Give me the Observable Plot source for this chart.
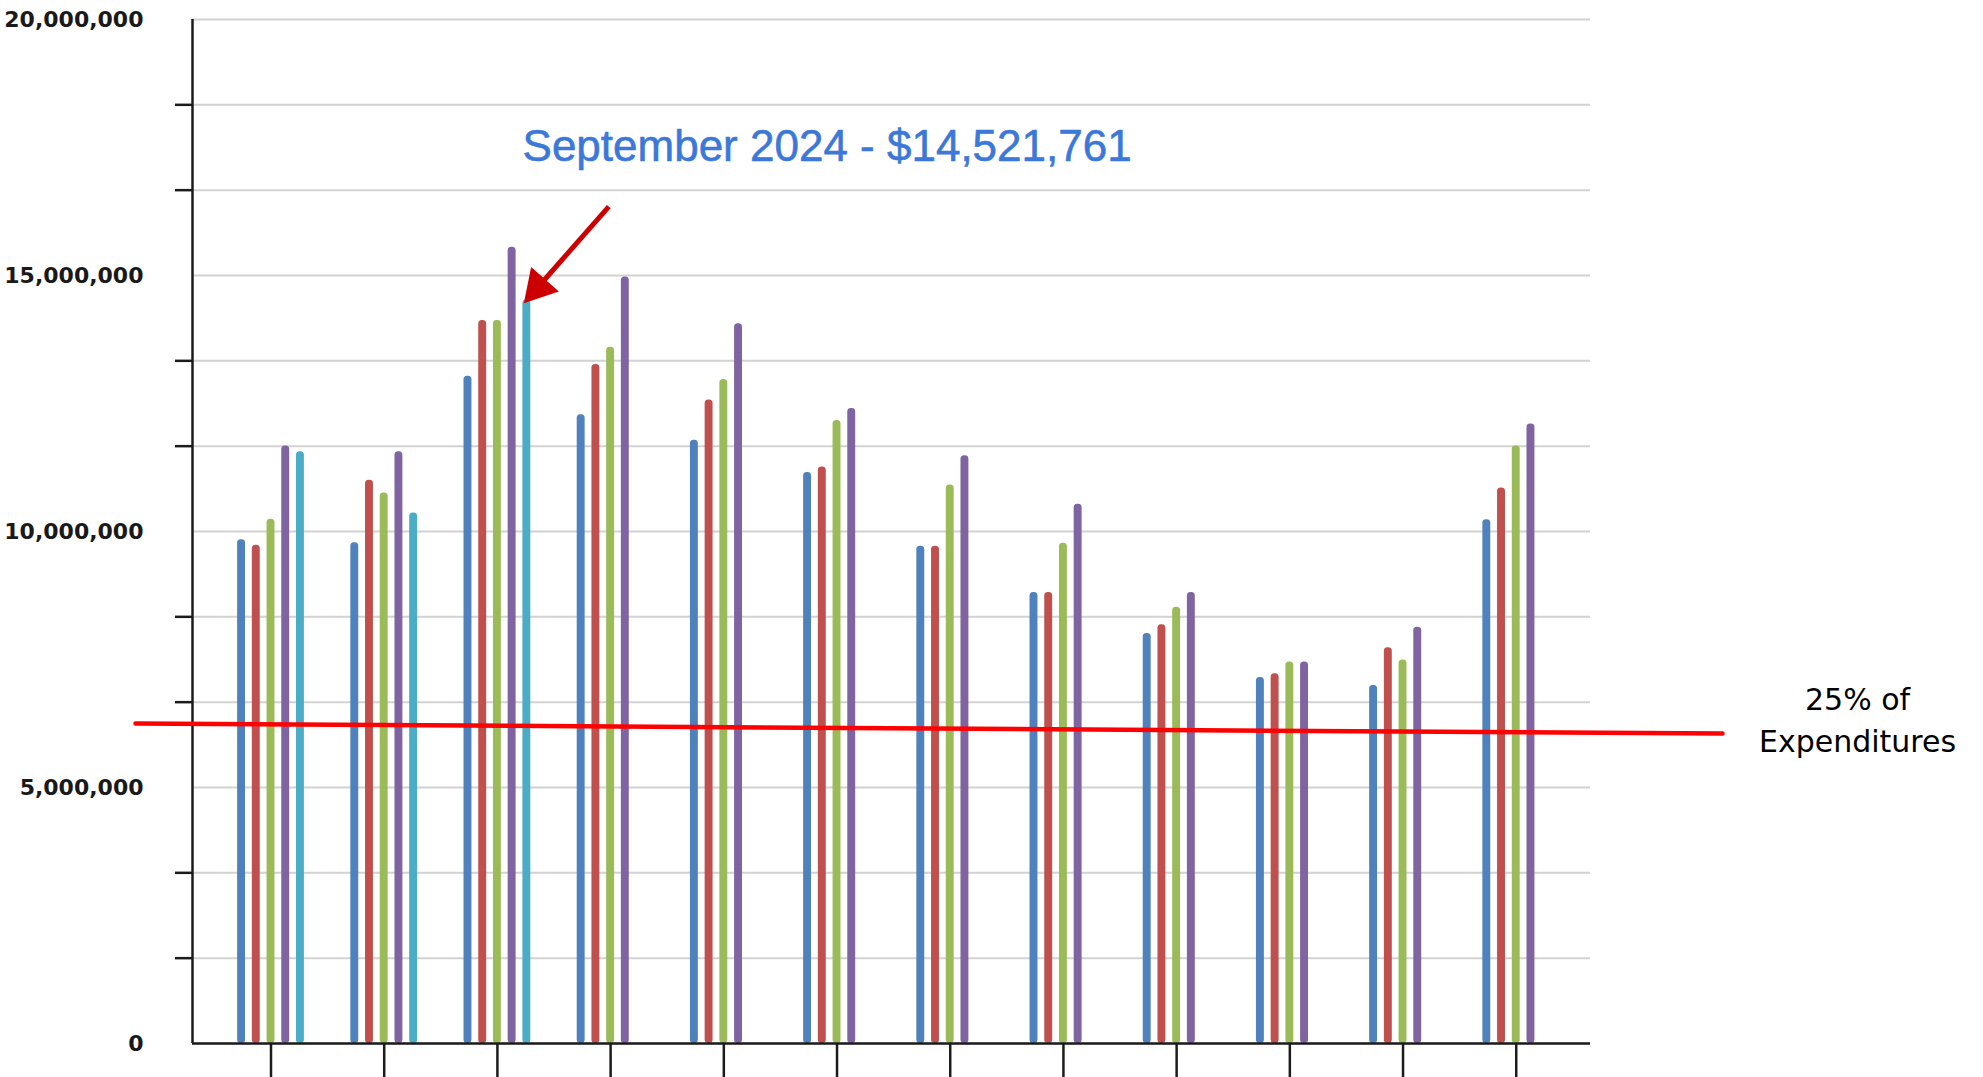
<!DOCTYPE html>
<html>
<head>
<meta charset="utf-8">
<script src="https://cdn.jsdelivr.net/npm/d3@7"></script>
<script src="https://cdn.jsdelivr.net/npm/@observablehq/plot@0.6"></script>
<style>
  html, body { margin: 0; padding: 0; background: #fff; overflow: hidden; }
  #chart svg { display: block; }
</style>
</head>
<body>
<div id="chart"></div>
<script>
// ---- data ----
const months = ["Jul", "Aug", "Sep", "Oct", "Nov", "Dec", "Jan", "Feb", "Mar", "Apr", "May", "Jun"];
const series = ["FY 2021", "FY 2022", "FY 2023", "FY 2024", "FY 2025"];
const fy2021 = [9840000, 9780000, 13030000, 12280000, 11780000, 11150000, 9710000, 8810000, 8010000, 7150000, 6990000, 10230000];
const fy2022 = [9730000, 11000000, 14120000, 13260000, 12570000, 11260000, 9710000, 8810000, 8180000, 7220000, 7730000, 10850000];
const fy2023 = [10240000, 10750000, 14120000, 13600000, 12970000, 12170000, 10910000, 9770000, 8520000, 7450000, 7490000, 11670000];
const fy2024 = [11670000, 11560000, 15550000, 14970000, 14060000, 12400000, 11480000, 10530000, 8810000, 7450000, 8130000, 12100000];
const fy2025 = [11560000, 10360000, 14521761, null, null, null, null, null, null, null, null, null];
const seriesColors = ["#4f81bd", "#c0504d", "#9bbb59", "#8064a2", "#4bacc6"];

const yLabelTicks = [0, 5000000, 10000000, 15000000, 20000000];
const yMinorTicks = [1666667, 3333333, 6666667, 8333333, 11666667, 13333333, 16666667, 18333333];
const yGridTicks = [...yLabelTicks, ...yMinorTicks];

// annotations (data space)
const calloutText = "September 2024 - $14,521,761";
const calloutPos = {x: 2.222, y: 17521000};
const arrowTail = {x: 2.984, y: 16346000};
const arrowHead = {x: 2.358, y: 14771000};
const thresholdX = [-1.197, 12.822];
const thresholdY = [6250000, 6055000];
const thresholdLabel = "25% of\nExpenditures";
const thresholdLabelPos = {x: 14.015, y: 6360000};

// ---- build table ----
const valuesBySeries = [fy2021, fy2022, fy2023, fy2024, fy2025];
const data = [];
series.forEach((s, si) => {
  valuesBySeries[si].forEach((v, mi) => {
    if (v != null) data.push({month: months[mi], series: s, value: v, mi, si});
  });
});

const dodge = 0.13;      // spacing between bars of a group (in month units)
const halfBar = 0.035;   // half bar width (in month units)
const xCenter = d => d.mi + (d.si - 2) * dodge;
const xDomain = [-0.6935, 11.656];
const ink = "#1c1c1c";

const chart = Plot.plot({
  width: 1983,
  height: 1077,
  marginTop: 19,
  marginBottom: 34,
  marginLeft: 192,
  marginRight: 393,
  style: {background: "#fff", overflow: "visible", fontFamily: "DejaVu Sans"},
  x: {type: "linear", domain: xDomain},
  y: {domain: [0, 20000000]},
  color: {domain: series, range: seriesColors},
  marks: [
    Plot.gridY(yGridTicks, {stroke: "#d2d2d2", strokeOpacity: 1, strokeWidth: 2}),
    Plot.rect(data, {
      x1: d => xCenter(d) - halfBar,
      x2: d => xCenter(d) + halfBar,
      y1: 0,
      y2: "value",
      fill: "series",
      rx: 3.5
    }),
    Plot.ruleY([0], {stroke: ink, strokeWidth: 2.5}),
    Plot.ruleX([xDomain[0]], {y1: 0, y2: 20000000, stroke: ink, strokeWidth: 2.5}),
    Plot.axisY(yMinorTicks, {tickSize: 17, tickFormat: () => "", stroke: ink, strokeWidth: 2.5, label: null}),
    Plot.axisY(yLabelTicks, {
      tickSize: 0, tickPadding: 49, tickFormat: d3.format(","), label: null,
      fontSize: 22, fontWeight: "bold", fill: "#1a1a1a"
    }),
    Plot.axisX(months.map((m, i) => i), {tickSize: 40, tickFormat: () => "", stroke: ink, strokeWidth: 2.5, label: null}),
    // 25% of expenditures line
    Plot.line(thresholdX.map((x, i) => ({x, y: thresholdY[i]})), {x: "x", y: "y", stroke: "#ff0000", strokeWidth: 4.5}),
    Plot.text([thresholdLabelPos], {
      x: "x", y: "y", text: () => thresholdLabel, textAnchor: "middle", lineAnchor: "middle",
      lineHeight: 1.4, fontSize: 30, fill: "#000", fontFamily: "DejaVu Sans"
    }),
    // callout
    Plot.link([{x1: arrowTail.x, y1: arrowTail.y, x2: arrowHead.x, y2: arrowHead.y}], {
      x1: "x1", y1: "y1", x2: "x2", y2: "y2", stroke: "#cc0000", strokeWidth: 5
    }),
    Plot.dot([arrowHead], {x: "x", y: "y", symbol: "triangle", r: 13.7, fill: "#cc0000", stroke: "none", rotate: 221.35}),
    Plot.text([calloutPos], {
      x: "x", y: "y", text: () => calloutText, textAnchor: "start", lineAnchor: "middle",
      fontSize: 44, fill: "#3c78d8", stroke: "#3c78d8", strokeWidth: 0.6, fontFamily: "Liberation Sans"
    })
  ]
});

document.getElementById("chart").appendChild(chart);
</script>
</body>
</html>
